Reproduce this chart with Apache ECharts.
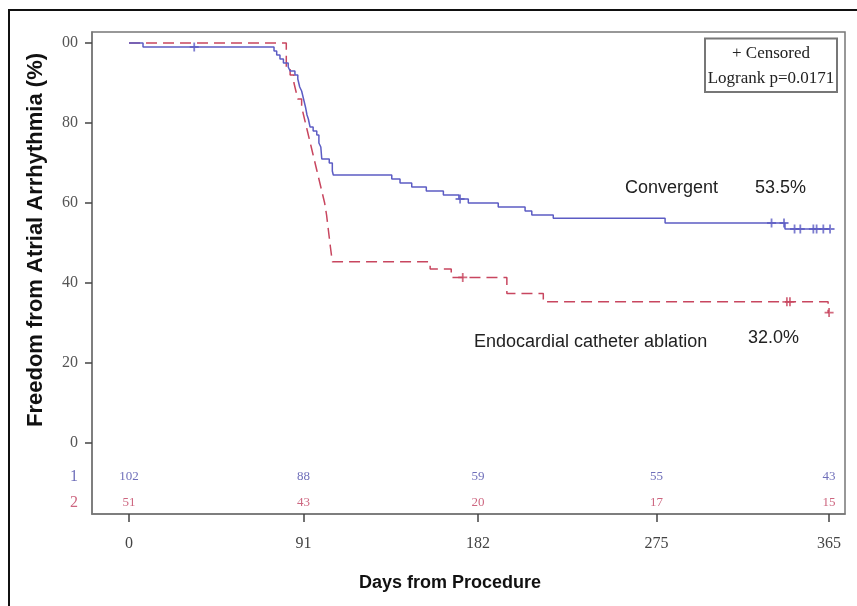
<!DOCTYPE html>
<html>
<head>
<meta charset="utf-8">
<script src="https://cdn.jsdelivr.net/npm/echarts@6/dist/echarts.min.js"></script>
<style>html,body{margin:0;padding:0;background:#fff;}#c{width:857px;height:606px;}</style>
</head>
<body>
<div id="c"></div>
<script>
// ---- data ----
const xTicks = [0, 91, 182, 275, 365];
const yTicks = [0, 20, 40, 60, 80, 100];
const atRiskConv = [102, 88, 59, 55, 43];
const atRiskEndo = [51, 43, 20, 17, 15];

// Convergent (group 1) KM steps: day, survival %
const convDays = [0, 7.3, 75.6, 77, 78.7, 80.5, 83, 84, 86.5, 88, 89, 90, 91, 92, 92.8, 93.5, 94.4, 96, 97.9, 99, 100, 100.5, 104.4, 106, 106.5, 137, 141.3, 147.4, 155, 163.9, 172, 176.9, 192.5, 206.5, 210, 221.2, 279.5, 342, 365.5];
const convSurv = [100, 99, 98, 97, 96, 95, 94, 93, 92, 91, 89, 88, 86, 84, 82, 81, 79, 78, 77, 75, 74, 71, 70, 68, 67, 66, 65, 64, 63, 62, 61, 60, 59, 58, 57, 56.2, 55, 53.5, 53.5];
const convCensDays = [34, 172.6, 335, 341.5, 347, 350, 356.8, 358.5, 362, 365.5];
const convCensSurv = [99, 61, 55, 55, 53.5, 53.5, 53.5, 53.5, 53.5, 53.5];

// Endocardial catheter ablation (group 2) KM steps
const endoDays = [0, 82, 84, 86, 87, 88, 90, 91, 92, 93, 94, 95, 96, 97, 98, 99, 100, 101, 102, 103, 104, 105, 106, 157, 168, 197, 216, 364.5, 365];
const endoSurv = [100, 94, 92, 90, 88, 86, 84, 82, 80, 78, 76, 74, 72, 70, 68, 66, 64, 62, 60, 57, 53, 49, 45.3, 43.5, 41.4, 37.4, 35.3, 32.6, 32.6];
const endoCensDays = [174, 343, 344.6, 365];
const endoCensSurv = [41.4, 35.3, 35.3, 32.6];

const blue = '#5c5cc4';
const red = '#c8465f';
const plus = 'path://M4,0H6V4H10V6H6V10H4V6H0V4H4Z';

const zip = (a, b) => a.map((v, i) => [v, b[i]]);

const chart = echarts.init(document.getElementById('c'));
chart.setOption({
  animation: false,
  grid: { left: 92, right: 12, top: 32, bottom: 92, show: true, borderColor: '#777', borderWidth: 1.5, backgroundColor: 'transparent' },
  xAxis: {
    type: 'value', min: -19.3, max: 373.3,
    axisLine: { show: true, onZero: false, lineStyle: { color: '#777', width: 1.5 } },
    axisTick: { show: true, customValues: xTicks, length: 8, lineStyle: { color: '#444', width: 1.5 } },
    axisLabel: { customValues: xTicks, margin: 22, color: '#444', fontFamily: 'Liberation Serif', fontSize: 16 },
    splitLine: { show: false }
  },
  yAxis: {
    type: 'value', min: -17.75, max: 102.75,
    axisLine: { show: true, onZero: false, lineStyle: { color: '#777', width: 1.5 } },
    axisTick: { show: true, customValues: yTicks, length: 7, lineStyle: { color: '#444', width: 1.5 } },
    axisLabel: { customValues: yTicks, margin: 14, color: '#555', fontFamily: 'Liberation Serif', fontSize: 16,
      formatter: v => (v === 100 ? '00' : String(v)) },
    splitLine: { show: false }
  },
  series: [
    { type: 'line', step: 'end', data: zip(endoDays, endoSurv), showSymbol: false, symbol: 'none',
      lineStyle: { color: red, width: 1.5, type: [11, 6] }, z: 3 },
    { type: 'line', step: 'end', data: zip(convDays, convSurv), showSymbol: false, symbol: 'none',
      lineStyle: { color: blue, width: 1.5 }, z: 4 },
    { type: 'scatter', data: zip(convCensDays, convCensSurv), symbol: plus, symbolSize: 9,
      itemStyle: { color: blue }, z: 5 },
    { type: 'scatter', data: zip(endoCensDays, endoCensSurv), symbol: plus, symbolSize: 9,
      itemStyle: { color: red }, z: 5 },
    { type: 'scatter', clip: false, symbolSize: 0, silent: true,
      data: xTicks.map((d, i) => ({ value: [d, -8.5], label: { formatter: String(atRiskConv[i]) } })),
      label: { show: true, position: 'inside', color: '#4a4aa8', fontFamily: 'Liberation Serif', fontSize: 13 } },
    { type: 'scatter', clip: false, symbolSize: 0, silent: true,
      data: xTicks.map((d, i) => ({ value: [d, -15], label: { formatter: String(atRiskEndo[i]) } })),
      label: { show: true, position: 'inside', color: '#c04060', fontFamily: 'Liberation Serif', fontSize: 13 } },
    { type: 'scatter', clip: false, symbolSize: 0, silent: true,
      data: [{ value: [-28.7, -8.5], label: { formatter: '1', color: '#4a4aa8' } },
             { value: [-28.7, -15], label: { formatter: '2', color: '#c04060' } }],
      label: { show: true, position: 'inside', fontFamily: 'Liberation Serif', fontSize: 16 } }
  ],
  graphic: [
    { type: 'rect', shape: { x: 9, y: 10, width: 870, height: 620 }, style: { fill: 'none', stroke: '#111', lineWidth: 2 }, silent: true },
    { type: 'rect', shape: { x: 705, y: 38.5, width: 132, height: 53.5 }, style: { fill: '#fff', stroke: '#777', lineWidth: 2 }, z: 10 },
    { type: 'text', x: 771, y: 54, z: 11, style: { text: '+ Censored', fill: '#222', font: '17px "Liberation Serif"', textAlign: 'center', textVerticalAlign: 'middle' } },
    { type: 'text', x: 771, y: 79, z: 11, style: { text: 'Logrank p=0.0171', fill: '#222', font: '17px "Liberation Serif"', textAlign: 'center', textVerticalAlign: 'middle' } },
    { type: 'text', x: 625, y: 188, style: { text: 'Convergent', fill: '#222', font: '18px "Liberation Sans"', textVerticalAlign: 'middle' } },
    { type: 'text', x: 755, y: 188, style: { text: '53.5%', fill: '#222', font: '18px "Liberation Sans"', textVerticalAlign: 'middle' } },
    { type: 'text', x: 474, y: 342, style: { text: 'Endocardial catheter ablation', fill: '#222', font: '18px "Liberation Sans"', textVerticalAlign: 'middle' } },
    { type: 'text', x: 748, y: 338, style: { text: '32.0%', fill: '#222', font: '18px "Liberation Sans"', textVerticalAlign: 'middle' } },
    { type: 'text', x: 450, y: 583, style: { text: 'Days from Procedure', fill: '#111', font: 'bold 18px "Liberation Sans"', textAlign: 'center', textVerticalAlign: 'middle' } },
    { type: 'text', x: 36, y: 240, rotation: Math.PI / 2, style: { text: 'Freedom from Atrial Arrhythmia (%)', fill: '#111', font: 'bold 22px "Liberation Sans"', textAlign: 'center', textVerticalAlign: 'middle' } }
  ]
});
</script>
</body>
</html>
